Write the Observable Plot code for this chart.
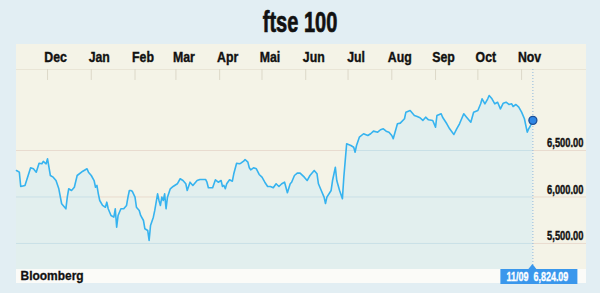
<!DOCTYPE html>
<html><head><meta charset="utf-8">
<script src="https://cdn.jsdelivr.net/npm/d3@7"></script>
<script src="https://cdn.jsdelivr.net/npm/@observablehq/plot@0.6"></script>
<style>
html,body{margin:0;padding:0;}
body{width:600px;height:293px;background:#e2eef3;position:relative;overflow:hidden;font-family:"Liberation Sans",Arial,sans-serif;}
#title{position:absolute;left:0;top:8px;width:600px;text-align:center;font-weight:bold;font-size:29px;line-height:29px;color:#111;}
#title span{display:inline-block;transform:scaleX(0.69);transform-origin:50% 50%;-webkit-text-stroke:0.7px #111;}
#panel{position:absolute;left:16px;top:44px;width:570px;height:239px;background:#f4f3e7;}
#footer{position:absolute;left:16px;top:269px;width:570px;height:14px;background:#fbfbf8;}
#chart{position:absolute;left:0;top:0;}
</style>
</head><body>
<div id="panel"></div>
<div id="footer"></div>
<div id="title"><span>ftse 100</span></div>
<div id="chart"></div>
<script>
// ---- data ----
const dates = ["2015-11-09","2015-11-11","2015-11-12","2015-11-15","2015-11-19","2015-11-21","2015-11-23","2015-11-25","2015-11-27","2015-11-28","2015-11-30",
"2015-12-01","2015-12-03","2015-12-05","2015-12-07","2015-12-09","2015-12-11","2015-12-14","2015-12-15","2015-12-16","2015-12-18","2015-12-20","2015-12-22","2015-12-26","2015-12-29","2015-12-30",
"2016-01-01","2016-01-03","2016-01-04","2016-01-05","2016-01-06","2016-01-07","2016-01-09","2016-01-11","2016-01-12","2016-01-13","2016-01-15","2016-01-17","2016-01-18","2016-01-19","2016-01-20","2016-01-22","2016-01-24","2016-01-26","2016-01-27","2016-01-28","2016-01-29","2016-01-30",
"2016-02-01","2016-02-02","2016-02-04","2016-02-05","2016-02-07","2016-02-08","2016-02-10","2016-02-11","2016-02-12","2016-02-14","2016-02-15","2016-02-17","2016-02-18","2016-02-19","2016-02-20","2016-02-21","2016-02-22","2016-02-23","2016-02-24","2016-02-26","2016-02-28",
"2016-03-02","2016-03-04","2016-03-06","2016-03-08","2016-03-09","2016-03-11","2016-03-13","2016-03-16","2016-03-18","2016-03-22","2016-03-23","2016-03-24","2016-03-27","2016-03-29","2016-03-31",
"2016-04-02","2016-04-03","2016-04-04","2016-04-05","2016-04-06","2016-04-08","2016-04-10","2016-04-11","2016-04-13","2016-04-15","2016-04-16","2016-04-18","2016-04-19","2016-04-21","2016-04-22","2016-04-23","2016-04-25","2016-04-27","2016-04-29",
"2016-05-01","2016-05-03","2016-05-05","2016-05-07","2016-05-09","2016-05-11","2016-05-13","2016-05-15","2016-05-17","2016-05-19","2016-05-21","2016-05-22","2016-05-24","2016-05-26","2016-05-28","2016-05-31",
"2016-06-02","2016-06-04","2016-06-07","2016-06-09","2016-06-10","2016-06-12","2016-06-14","2016-06-15","2016-06-16","2016-06-19","2016-06-20","2016-06-22","2016-06-23","2016-06-25","2016-06-27","2016-06-28","2016-06-30",
"2016-07-03","2016-07-05","2016-07-06","2016-07-07","2016-07-09","2016-07-12","2016-07-15","2016-07-17","2016-07-19","2016-07-22","2016-07-24","2016-07-26","2016-07-28","2016-07-30",
"2016-08-01","2016-08-02","2016-08-05","2016-08-07","2016-08-10","2016-08-11","2016-08-14","2016-08-17","2016-08-19","2016-08-21","2016-08-23","2016-08-25","2016-08-27","2016-08-30",
"2016-09-01","2016-09-02","2016-09-05","2016-09-06","2016-09-09","2016-09-11","2016-09-14","2016-09-16","2016-09-18","2016-09-21","2016-09-23","2016-09-26","2016-09-28",
"2016-10-01","2016-10-03","2016-10-04","2016-10-06","2016-10-08","2016-10-09","2016-10-11","2016-10-13","2016-10-15","2016-10-17","2016-10-19","2016-10-21","2016-10-23","2016-10-25","2016-10-26","2016-10-28","2016-10-30",
"2016-11-01","2016-11-03","2016-11-04","2016-11-05","2016-11-06","2016-11-07","2016-11-09"];
const values = [6285,6267,6113,6124,6314,6303,6267,6363,6357,6382,6357,
6411,6231,6213,6177,6088,5927,5873,5998,6088,6070,6105,6231,6277,6303,6267,
6231,6177,6105,6124,6034,5962,5909,5890,5944,5873,5801,5783,5873,5675,5801,5873,5873,5909,5998,6070,6070,6062,
5998,5890,5855,5801,5747,5658,5640,5532,5694,5783,5855,6034,5962,5909,5998,5962,6034,5873,5998,6088,6113,
6142,6196,6177,6142,6070,6159,6124,6177,6188,6188,6159,6099,6099,6185,6159,
6177,6113,6124,6088,6142,6185,6170,6249,6363,6357,6363,6385,6403,6374,6314,6292,6314,6303,6242,
6213,6159,6113,6113,6099,6142,6113,6142,6159,6045,6142,6159,6231,6256,6256,6213,
6177,6231,6285,6249,6142,6070,5998,5930,5998,6070,6177,6320,6177,6070,5981,6213,6572,
6554,6535,6482,6554,6643,6680,6661,6680,6708,6697,6723,6733,6708,6697,
6661,6626,6787,6794,6841,6912,6930,6876,6866,6852,6823,6858,6830,6823,
6751,6876,6895,6858,6787,6733,6672,6733,6787,6895,6858,6804,6912,
6930,7002,7056,7002,7056,7091,7056,7002,7019,6948,7009,7019,6995,7002,6973,6995,6966,
6912,6841,6769,6697,6733,6758,6824.09];
const monthLabels = ["Dec","Jan","Feb","Mar","Apr","Mai","Jun","Jul","Aug","Sep","Oct","Nov"];
const monthStarts = ["2015-12-01","2016-01-01","2016-02-01","2016-03-01","2016-04-01","2016-05-01","2016-06-01","2016-07-01","2016-08-01","2016-09-01","2016-10-01","2016-11-01"];
const yTicks = [5500, 6000, 6500];
const source = "Bloomberg";
const lastLabelDate = "11/09";

// ---- build ----
const data = dates.map((d, i) => ({date: new Date(d), value: values[i]}));
const last = data[data.length - 1];
const months = monthStarts.map((d, i) => ({date: new Date(d), label: monthLabels[i]}));
const xDomain = [new Date("2015-11-09"), new Date("2016-12-17")];
const yDomain = [5220, 7371];
const yTickTop = 7253;
const fmt = d3.format(",.2f");
const FONT = "'Liberation Sans',Arial,sans-serif";
const GRID_UNDER = "#c9e0e6";

const chart = Plot.plot({
  width: 600, height: 293,
  marginLeft: 16, marginRight: 14, marginTop: 69, marginBottom: 24,
  style: {background: "transparent", fontFamily: FONT},
  x: {type: "utc", domain: xDomain, axis: null},
  y: {domain: yDomain, axis: null},
  marks: [
    Plot.ruleY(yTicks, {stroke: "#e8dbcf", strokeWidth: 1}),
    Plot.areaY(data, {x: "date", y1: yDomain[0], y2: "value", fill: "#e2efee"}),
    Plot.ruleY(yTicks, {stroke: GRID_UNDER, strokeWidth: 1}),
    Plot.ruleY([yDomain[1]], {stroke: "#e9e5d6"}),
    Plot.ruleX(months, {x: "date", y1: yDomain[1], y2: yTickTop, stroke: "#dcd8c8"}),
    Plot.ruleX([last], {x: "date", y1: yDomain[1], y2: yDomain[0], stroke: "#8db7dd", strokeDasharray: "1,2"}),
    Plot.lineY(data, {x: "date", y: "value", stroke: "#36b3ef", strokeWidth: 1.6}),
    Plot.dot([last], {x: "date", y: "value", r: 4, fill: "#2f86e4", stroke: "#1c4f98", strokeWidth: 1.3}),
    Plot.text(months, {x: "date", text: "label", frameAnchor: "top", dx: 8, dy: -12, lineAnchor: "middle",
      fontSize: 15, fontWeight: "bold", fill: "#111"}),
    Plot.text(yTicks, {x: xDomain[1], y: d => d, text: d => fmt(d), textAnchor: "end", dx: -3, dy: -7.5,
      lineAnchor: "middle", fontSize: 13, fontWeight: "bold", fill: "#111"}),
    Plot.text([source], {text: d => d, frameAnchor: "bottom-left", textAnchor: "start", dx: 4, dy: 6.8,
      lineAnchor: "middle", fontSize: 13, fontWeight: "bold", fill: "#111"})
  ]
});
document.getElementById("chart").appendChild(chart);

const svg = d3.select(chart);
// condense text like the original condensed typeface
function squeeze(sel, k, sw, col) {
  sel.each(function() {
    const len = this.getComputedTextLength();
    d3.select(this).attr("textLength", (len * k).toFixed(1)).attr("lengthAdjust", "spacingAndGlyphs");
    if (sw) d3.select(this).attr("stroke", col || "#111").attr("stroke-width", sw);
  });
}
const textGroups = svg.selectAll('g[aria-label="text"]').nodes();
squeeze(d3.select(textGroups[0]).selectAll("text"), 0.82, 0.4);
squeeze(d3.select(textGroups[1]).selectAll("text"), 0.72, 0.4);
squeeze(d3.select(textGroups[2]).selectAll("text"), 0.92, 0.3);

// grid lines under the area are drawn bluish (clipped to the area)
const areaNode = svg.select('g[aria-label="area"] path').node();
if (areaNode) {
  svg.insert("defs", ":first-child").append("clipPath").attr("id", "under-clip")
    .append("path").attr("d", areaNode.getAttribute("d"));
  svg.selectAll('g[aria-label="rule"]').filter(function() {
    return (this.getAttribute("stroke") || "").toLowerCase() === GRID_UNDER;
  }).attr("clip-path", "url(#under-clip)");
}

// last-value callout in the footer
const sx = d3.scaleUtc().domain(xDomain).range([16, 600 - 14]);
const xs = sx(last.date);
const yBottom = 293 - 24;
const g = svg.append("g").attr("text-anchor", "start");
g.append("path").attr("d", `M${xs - 4},${yBottom}L${xs},${yBottom - 5}L${xs + 4},${yBottom}Z`).attr("fill", "#3a97ec");
g.append("rect").attr("x", xs - 32).attr("y", yBottom).attr("width", 77).attr("height", 15).attr("fill", "#3a97ec");
const t = g.append("text").attr("x", xs - 26).attr("y", yBottom + 11.5).attr("text-anchor", "start")
  .attr("fill", "#fff").attr("font-weight", "bold").attr("font-size", 12).attr("font-family", FONT)
  .attr("stroke", "#fff").attr("stroke-width", 0.3)
  .style("white-space", "pre").text(lastLabelDate + "  " + fmt(last.value));
t.attr("textLength", 62).attr("lengthAdjust", "spacingAndGlyphs");
</script>
</body></html>
